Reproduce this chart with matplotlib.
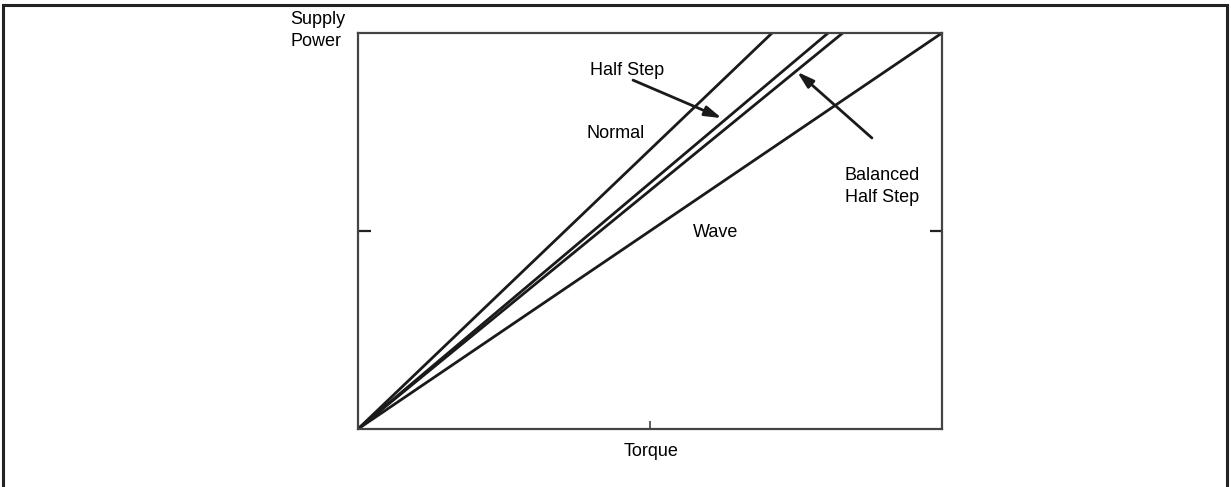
import matplotlib.pyplot as plt
from matplotlib.patches import Rectangle

plt.rcParams['font.family'] = ['Liberation Sans', 'DejaVu Sans']

# each mode: torque reached when supply power hits the top of the scale
modes = ['Normal', 'Half Step', 'Balanced Half Step', 'Wave']
torque_at_top = [0.709, 0.805, 0.830, 1.0]
power_top = 1.0

fig = plt.figure(figsize=(12.31, 4.87), dpi=100)
# outer frame (bottom edge falls off the picture)
fig.patches.append(Rectangle((0.0025, -0.02), 0.9945, 1.009, transform=fig.transFigure,
                             fill=False, edgecolor='#222222', linewidth=2.2))
ax = fig.add_axes([0.2908, 0.1191, 0.4744, 0.8131])

for name, t in zip(modes, torque_at_top):
    ax.plot([0, t], [0, power_top], color='#1a1a1a', linewidth=2.0, solid_capstyle='butt')

ax.set_xlim(0, 1)
ax.set_ylim(0, 1)
for s in ax.spines.values():
    s.set_color('#444444')
    s.set_linewidth(1.6)
ax.set_xticks([0.5])
ax.set_yticks([0.5])
ax.set_xticklabels([])
ax.set_yticklabels([])
ax.tick_params(axis='x', direction='in', length=6, width=1.2, color='#444444')
ax.tick_params(axis='y', direction='in', length=9, width=1.6, color='#222222', right=True)

fs = 13
ax.text(-0.116, 1.007, 'Supply\nPower', fontsize=fs, ha='left', va='center', linespacing=1.4)
ax.text(0.502, -0.058, 'Torque', fontsize=fs, ha='center', va='center')
ax.text(0.442, 0.747, 'Normal', fontsize=fs, ha='center', va='center')
ax.text(0.612, 0.495, 'Wave', fontsize=fs, ha='center', va='center')

arrow = dict(arrowstyle='-|>,head_length=1.0,head_width=0.3', color='#1a1a1a', lw=2.0,
             shrinkA=0, shrinkB=0)
ax.annotate('', xy=(0.623, 0.785), xytext=(0.471, 0.881), arrowprops=arrow)
ax.text(0.46, 0.906, 'Half Step', fontsize=fs, ha='center', va='center')
ax.annotate('', xy=(0.752, 0.902), xytext=(0.880, 0.735), arrowprops=arrow)
ax.text(0.897, 0.613, 'Balanced\nHalf Step', fontsize=fs, ha='center', va='center', linespacing=1.4)

fig.savefig('out.png', dpi=100)
